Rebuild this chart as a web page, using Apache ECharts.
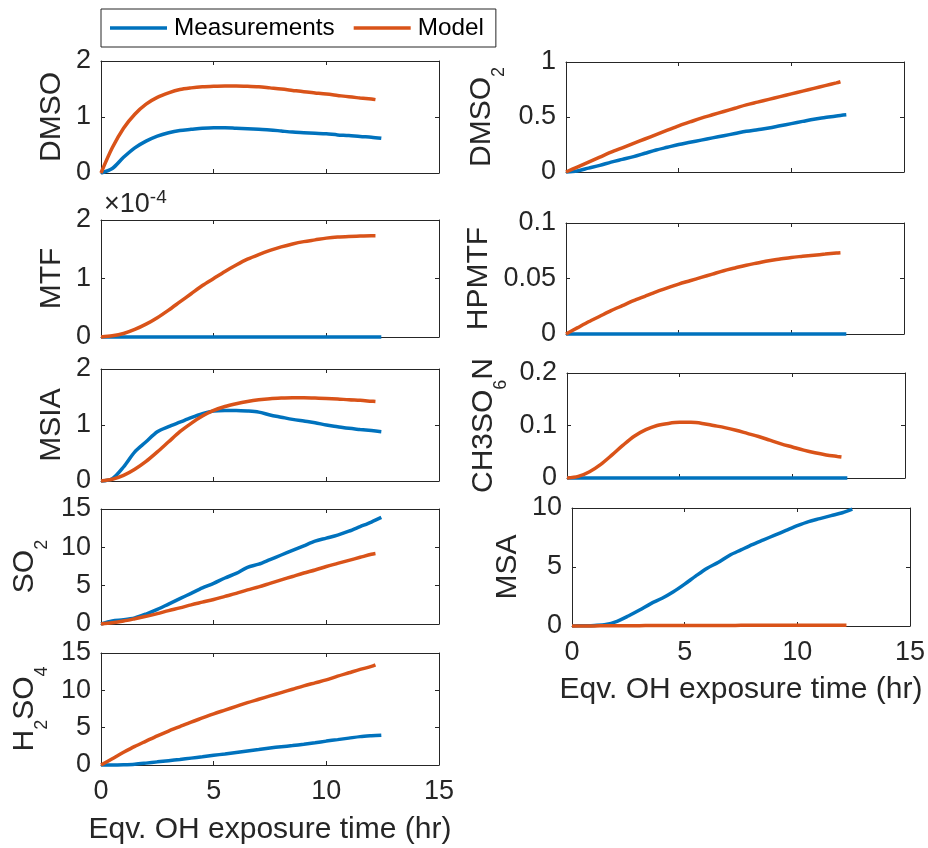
<!DOCTYPE html>
<html><head><meta charset="utf-8">
<script src="https://cdn.jsdelivr.net/npm/echarts@6/dist/echarts.min.js"></script>
<style>html,body{margin:0;padding:0;background:#fff}#c{width:928px;height:848px}</style>
</head><body><div id="c"></div><script>
// ---------- data ----------
const tMeas  = [0,0.5,1,1.5,2,2.5,3,3.5,4,4.5,5,5.5,6,6.5,7,7.5,8,8.5,9,9.5,10,10.5,11,11.5,12,12.44];
const tModel = [0,0.5,1,1.5,2,2.5,3,3.5,4,4.5,5,5.5,6,6.5,7,7.5,8,8.5,9,9.5,10,10.5,11,11.5,12,12.18];
const xTicks = [0,5,10,15];
const seriesNames = ['Measurements','Model'];

const dmsoMeas   = [0,0.08,0.28,0.45,0.57,0.66,0.72,0.76,0.78,0.80,0.81,0.81,0.80,0.79,0.78,0.77,0.75,0.73,0.72,0.71,0.70,0.68,0.67,0.65,0.64,0.62];
const dmsoModel  = [0,0.45,0.80,1.05,1.23,1.35,1.43,1.49,1.52,1.54,1.55,1.555,1.555,1.55,1.54,1.52,1.50,1.475,1.45,1.43,1.41,1.385,1.36,1.34,1.32,1.31];
const mtfMeas    = [0,0,0,0,0,0,0,0,0,0,0,0,0,0,0,0,0,0,0,0,0,0,0,0,0,0];
const mtfModel   = [0,0.02e-4,0.06e-4,0.13e-4,0.22e-4,0.33e-4,0.46e-4,0.60e-4,0.74e-4,0.88e-4,1.00e-4,1.12e-4,1.23e-4,1.33e-4,1.41e-4,1.48e-4,1.54e-4,1.59e-4,1.63e-4,1.66e-4,1.69e-4,1.71e-4,1.72e-4,1.725e-4,1.73e-4,1.73e-4];
const msiaMeas   = [0,0.04,0.25,0.52,0.70,0.88,0.97,1.05,1.13,1.20,1.25,1.26,1.26,1.25,1.23,1.18,1.14,1.10,1.07,1.04,1.00,0.97,0.94,0.92,0.90,0.88];
const msiaModel  = [0,0.03,0.10,0.21,0.35,0.52,0.70,0.88,1.03,1.16,1.26,1.33,1.38,1.42,1.45,1.47,1.48,1.485,1.485,1.48,1.475,1.465,1.45,1.44,1.425,1.42];
const so2Meas    = [0,0.4,0.55,0.8,1.3,1.9,2.6,3.3,4.0,4.7,5.3,6.0,6.6,7.4,7.8,8.4,9.0,9.6,10.2,10.8,11.2,11.6,12.1,12.7,13.3,13.9];
const so2Model   = [0,0.15,0.38,0.68,1.0,1.35,1.75,2.1,2.5,2.85,3.2,3.6,4.0,4.45,4.85,5.3,5.75,6.2,6.65,7.05,7.5,7.9,8.3,8.7,9.1,9.2];
const h2so4Meas  = [0,0,0.03,0.1,0.25,0.42,0.58,0.74,0.92,1.1,1.3,1.48,1.68,1.88,2.08,2.28,2.45,2.6,2.78,2.98,3.2,3.4,3.6,3.8,3.92,4.0];
const h2so4Model = [0,0.85,1.7,2.5,3.2,3.9,4.55,5.15,5.75,6.3,6.85,7.35,7.85,8.35,8.8,9.25,9.7,10.15,10.6,11.0,11.4,11.9,12.35,12.8,13.2,13.4];
const dmso2Meas  = [0,0.01,0.035,0.06,0.09,0.115,0.14,0.17,0.20,0.225,0.25,0.27,0.29,0.31,0.33,0.35,0.37,0.385,0.40,0.42,0.44,0.46,0.48,0.495,0.51,0.52];
const dmso2Model = [0,0.045,0.09,0.135,0.18,0.22,0.26,0.30,0.34,0.38,0.42,0.455,0.49,0.52,0.55,0.58,0.61,0.635,0.66,0.685,0.71,0.735,0.76,0.785,0.81,0.82];
const hpmtfMeas  = [0,0,0,0,0,0,0,0,0,0,0,0,0,0,0,0,0,0,0,0,0,0,0,0,0,0];
const hpmtfModel = [0,0.0055,0.011,0.016,0.021,0.0255,0.030,0.034,0.038,0.0415,0.045,0.048,0.051,0.054,0.057,0.0595,0.062,0.064,0.066,0.0675,0.069,0.070,0.071,0.072,0.073,0.0733];
const ch3Meas    = [0,0,0,0,0,0,0,0,0,0,0,0,0,0,0,0,0,0,0,0,0,0,0,0,0,0];
const ch3Model   = [0,0.003,0.012,0.026,0.044,0.063,0.080,0.092,0.100,0.104,0.106,0.106,0.104,0.100,0.096,0.091,0.085,0.079,0.072,0.065,0.059,0.053,0.048,0.044,0.041,0.040];
const msaMeas    = [0,0.02,0.05,0.12,0.4,0.85,1.35,1.9,2.35,2.9,3.55,4.25,4.9,5.4,6.0,6.45,6.9,7.3,7.7,8.1,8.5,8.85,9.1,9.35,9.6,9.9];
const msaModel   = [0,0.005,0.01,0.015,0.02,0.025,0.03,0.035,0.04,0.04,0.045,0.045,0.05,0.05,0.05,0.055,0.055,0.055,0.06,0.06,0.06,0.06,0.065,0.065,0.065,0.065];

const yLabels = ['{a|DMSO}','{a|MTF}','{a|MSIA}','{a|SO}{s|2}','{a|H}{s|2}{a|SO}{s|4}',
                 '{a|DMSO}{s|2}','{a|HPMTF}','{a|CH3SO}{s|6}{a|N}','{a|MSA}'];
const yMaxes = [2, 2e-4, 2, 15, 15, 1, 0.1, 0.2, 10];
const yIntervals = [1, 1e-4, 1, 5, 5, 0.5, 0.05, 0.1, 5];
const measData = [dmsoMeas, mtfMeas, msiaMeas, so2Meas, h2so4Meas, dmso2Meas, hpmtfMeas, ch3Meas, msaMeas];
const modelData = [dmsoModel, mtfModel, msiaModel, so2Model, h2so4Model, dmso2Model, hpmtfModel, ch3Model, msaModel];
const xTitle = 'Eqv. OH exposure time (hr)';

// ---------- layout / style ----------
const FONT = '"Liberation Sans", Arial, Helvetica, sans-serif';
const INK = '#262626';
const BLUE = '#0072BD', ORANGE = '#D95319';
const boxes = [
  [101, 61, 338, 112], [101, 220, 338, 117], [101, 369, 338, 112], [101, 509, 338, 115], [101, 653, 338, 112],
  [566, 62, 338, 110], [566, 223, 338, 111], [567, 373, 338, 105], [572, 508, 338, 118]
];
const nameGaps = [34.5, 34.5, 34.5, 50, 50, 58, 72, 57, 49.5];
const showX = [false, false, false, false, true, false, false, false, true];
const xNameGaps = [0,0,0,0,50,0,0,0,49];

const richName = {
  a: {fontSize: 30, lineHeight: 30, verticalAlign: 'top', color: INK, fontFamily: FONT},
  s: {fontSize: 18, lineHeight: 41, verticalAlign: 'bottom', color: INK, fontFamily: FONT}
};

const grid = [], xAxis = [], yAxis = [], series = [];
boxes.forEach((b, i) => {
  grid.push({left: b[0], top: b[1], width: b[2], height: b[3], show: false, outerBoundsMode: 'none', containLabel: false});
  const tick = {show: true, inside: true, length: 4, lineStyle: {color: INK, width: 1}};
  const line = {show: true, onZero: false, lineStyle: {color: INK, width: 1}};
  const xBase = {gridIndex: i, type: 'value', min: xTicks[0], max: xTicks[xTicks.length - 1], interval: xTicks[1] - xTicks[0],
    axisLine: line, axisTick: tick, splitLine: {show: false}};
  xAxis.push(Object.assign({}, xBase, {
    position: 'bottom',
    axisLabel: {show: showX[i], margin: 13, color: INK, fontSize: 27, fontFamily: FONT, showMinLabel: true, showMaxLabel: true},
    name: showX[i] ? xTitle : '', nameLocation: 'middle', nameGap: xNameGaps[i],
    nameTextStyle: {fontSize: 30, color: INK, fontFamily: FONT, lineHeight: 30}
  }));
  const topAxis = Object.assign({}, xBase, {position: 'top', axisLabel: {show: false}});
  if (i === 1) {
    Object.assign(topAxis, {
      name: '{m|×10}{p|-4}', nameLocation: 'start', nameGap: 0,
      nameTextStyle: {align: 'left', verticalAlign: 'bottom', padding: [0, 0, 2, 3],
        rich: {m: {fontSize: 27, lineHeight: 30, verticalAlign: 'bottom', color: INK, fontFamily: FONT},
               p: {fontSize: 19, verticalAlign: 'top', color: INK, fontFamily: FONT}}}
    });
  }
  xAxis.push(topAxis);
  const yBase = {gridIndex: i, type: 'value', min: 0, max: yMaxes[i], interval: yIntervals[i],
    axisLine: line, axisTick: tick, splitLine: {show: false}};
  yAxis.push(Object.assign({}, yBase, {
    position: 'left',
    axisLabel: {show: true, margin: 10, color: INK, fontSize: 27, fontFamily: FONT, showMinLabel: true, showMaxLabel: true,
      formatter: i === 1 ? (v => String(Math.round(v * 1e4))) : null},
    name: yLabels[i], nameLocation: 'middle', nameRotate: 90, nameGap: nameGaps[i],
    nameTextStyle: {color: INK, fontFamily: FONT, rich: richName}
  }));
  yAxis.push(Object.assign({}, yBase, {position: 'right', axisLabel: {show: false}}));

  series.push({
    name: seriesNames[0], type: 'line', xAxisIndex: 2 * i, yAxisIndex: 2 * i,
    data: tMeas.map((t, k) => [t, measData[i][k]]),
    showSymbol: false, smooth: 0.3, clip: false, color: BLUE,
    lineStyle: {color: BLUE, width: 3.5}, z: 2
  });
  series.push({
    name: seriesNames[1], type: 'line', xAxisIndex: 2 * i, yAxisIndex: 2 * i,
    data: tModel.map((t, k) => [t, modelData[i][k]]),
    showSymbol: false, smooth: 0.3, clip: false, color: ORANGE,
    lineStyle: {color: ORANGE, width: 3.5}, z: 3
  });
});

const chart = echarts.init(document.getElementById('c'), null, {renderer: 'canvas'});
chart.setOption({
  animation: false,
  backgroundColor: '#fff',
  legend: {
    data: seriesNames, left: 101, top: 9, orient: 'horizontal', icon: 'rect',
    itemWidth: 57, itemHeight: 3.5, itemGap: 19, padding: [7, 12, 7, 9],
    borderColor: INK, borderWidth: 1, backgroundColor: '#fff', selectedMode: false,
    textStyle: {fontSize: 24.3, color: '#000', fontFamily: FONT, padding: [0, 0, 0, 2]}
  },
  grid, xAxis, yAxis, series
});
</script></body></html>
